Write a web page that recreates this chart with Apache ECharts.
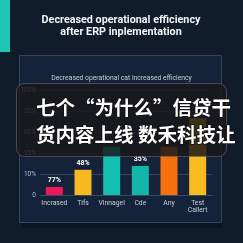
<!DOCTYPE html>
<html>
<head>
<meta charset="utf-8">
<script src="https://cdn.jsdelivr.net/npm/echarts@6/dist/echarts.min.js"></script>
<style>
  html, body { margin: 0; padding: 0; background: #111c2b; }
  #chart { width: 243px; height: 243px; }
</style>
</head>
<body>
<div id="chart"></div>
<script>
// data (y in tick steps, 0..5)
var categories = ['Incrased', 'Tifs', 'Vinnagel', 'Cde', 'Any', 'Test\nCallert'];
var values = [0.38, 1.2, 2.3, 1.38, 2.3, 3.65];
var barLabels = ['77%', '48%', '', '35%', '', ''];
var barColors = ['#ee1758', '#f7b922', '#13bfb0', '#12b7aa', '#f7700f', '#f8bc1e'];
var tickLabels = ['0', '10%', '35%', '60%', '20%', '100%'];
var titleLines = ['Decreased operational efficiency', 'after ERP inplementation'];
var overlayLines = ['七个“为什么”信贷干', '货内容上线 数禾科技让'];

var seriesData = values.map(function (v, i) {
    return {
        value: v,
        itemStyle: { color: barColors[i] },
        label: { show: barLabels[i] !== '', formatter: barLabels[i] }
    };
});

var titleStyle = { fill: '#f2f4f7', fontSize: 10.8, fontWeight: 'bold', fontFamily: 'Roboto',
                   align: 'center', verticalAlign: 'middle' };
var cjkStyle = { fill: '#ffffff', fontSize: 19.5, fontWeight: 'bold', fontFamily: 'Noto Sans CJK SC',
                 verticalAlign: 'middle', stroke: '#111', lineWidth: 1.5 };

var option = {
    backgroundColor: '#111c2b',
    animation: false,
    title: {
        text: 'Decreased operational cat increased efficiency',
        left: 'center', top: 70,
        textStyle: { color: '#c7cdd6', fontSize: 6.8, fontWeight: 'normal', fontFamily: 'Roboto' }
    },
    graphic: [
        { type: 'rect', shape: { x: 0, y: 0, width: 10, height: 52 }, style: { fill: '#1ec6b6' }, z: 0 },
        { type: 'text', x: 121, y: 20, z: 5, style: Object.assign({ text: titleLines[0] }, titleStyle) },
        { type: 'text', x: 121, y: 32.5, z: 5, style: Object.assign({ text: titleLines[1] }, titleStyle) },
        { type: 'rect', shape: { x: 22, y: 223, width: 200, height: 5 }, style: { fill: '#0c1522' }, z: 0 },
        { type: 'rect', shape: { x: 19.5, y: 55.5, width: 202, height: 167 },
          style: { fill: '#14223a', stroke: '#34445a', lineWidth: 1 }, z: -1 },
        { type: 'rect', shape: { x: 16.5, y: 83.5, width: 210, height: 73, r: 8 },
          style: { fill: 'rgba(24,24,26,0.84)', stroke: 'rgba(110,110,115,0.6)', lineWidth: 1 }, z: 100 },
        { type: 'text', x: 36, y: 108, z: 101, style: Object.assign({ text: overlayLines[0] }, cjkStyle) },
        { type: 'text', x: 36, y: 135, z: 101, style: Object.assign({ text: overlayLines[1] }, cjkStyle) }
    ],
    grid: { left: 40, right: 31, top: 90, bottom: 48 },
    xAxis: {
        type: 'category',
        data: categories,
        axisLine: { lineStyle: { color: '#3a4a60' } },
        axisTick: { show: false },
        axisLabel: { color: '#c9cfd8', fontSize: 6.8, fontFamily: 'Roboto', margin: 5, lineHeight: 7, interval: 0 }
    },
    yAxis: {
        type: 'value',
        min: 0, max: 5, interval: 1,
        axisLine: { show: false },
        axisTick: { show: false },
        splitLine: { lineStyle: { color: '#34455c', width: 1 } },
        axisLabel: {
            color: '#b5bcc6', fontSize: 6.5, fontFamily: 'Roboto', margin: 4,
            formatter: function (v) { return tickLabels[v]; }
        }
    },
    series: [
        {
            type: 'bar',
            data: seriesData,
            barWidth: 17,
            label: { position: 'top', color: '#ffffff', fontSize: 7, fontWeight: 'bold', fontFamily: 'Roboto', distance: 3 }
        }
    ]
};

var myChart = echarts.init(document.getElementById('chart'));
myChart.setOption(option);
</script>
</body>
</html>
